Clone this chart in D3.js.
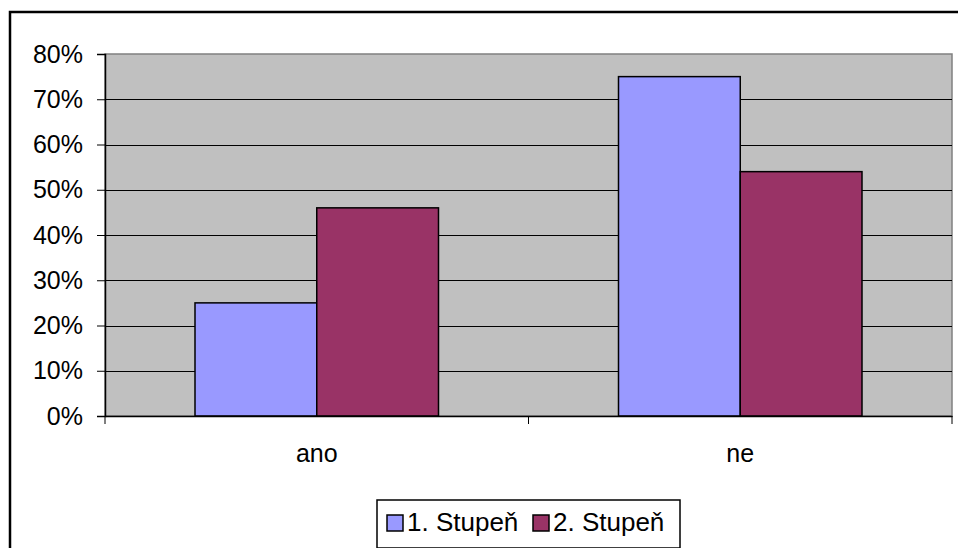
<!DOCTYPE html>
<html>
<meta charset="utf-8">
<style>
body { margin: 0; background: #fff; }
svg { display: block; }
text { font-family: "Liberation Sans", Arial, sans-serif; fill: #000; }
</style>
<body>
<svg id="chart" width="958" height="548"></svg>
<script src="https://d3js.org/d3.v7.min.js"></script>
<script>
var categories = ["ano", "ne"];
var series = ["1. Stupeň", "2. Stupeň"];
var stupen1 = [25, 75];
var stupen2 = [46, 54];
var yTicks = [0, 10, 20, 30, 40, 50, 60, 70, 80];
var colors = ["#9999FF", "#993366"];

var plot = {left: 105, right: 952, top: 54, bottom: 416};
var svg = d3.select("#chart");

// outer chart border (runs off the window on right and bottom)
svg.append("rect")
	.attr("x", 10).attr("y", 12)
	.attr("width", 960).attr("height", 560)
	.attr("fill", "#fff")
	.attr("stroke", "#000")
	.attr("stroke-width", 2.5);

var x = d3.scaleBand()
	.domain(categories)
	.range([plot.left, plot.right]);

// each category is ~424 px wide, the two bars take 244 of it
var xInner = d3.scaleBand()
	.domain(series)
	.range([90, x.bandwidth() - 90]);

var y = d3.scaleLinear()
	.domain([0, 80])
	.range([plot.bottom, plot.top]);

// plot background
svg.append("rect")
	.attr("x", plot.left).attr("y", plot.top)
	.attr("width", plot.right - plot.left).attr("height", plot.bottom - plot.top)
	.attr("fill", "#C0C0C0")
	.attr("stroke", "#808080")
	.attr("stroke-width", 1.5);

// gridlines
svg.append("g")
	.selectAll("line")
	.data(yTicks.slice(1, -1))
	.enter().append("line")
	.attr("x1", plot.left).attr("x2", plot.right)
	.attr("y1", function(d) { return Math.round(y(d)) + 0.5; })
	.attr("y2", function(d) { return Math.round(y(d)) + 0.5; })
	.attr("stroke", "#000")
	.attr("stroke-width", 1);

var data = categories.map(function(c, i) {
	return {cat: c, values: [stupen1[i], stupen2[i]]};
});

var grp = svg.append("g")
	.selectAll("g")
	.data(data)
	.enter().append("g")
	.attr("transform", function(d) { return "translate(" + x(d.cat) + ",0)"; });

grp.selectAll("rect")
	.data(function(d) { return d.values.map(function(v, i) { return {s: series[i], v: v, i: i}; }); })
	.enter().append("rect")
	.attr("x", function(d) { return xInner(d.s); })
	.attr("y", function(d) { return y(d.v); })
	.attr("width", xInner.bandwidth())
	.attr("height", function(d) { return plot.bottom - y(d.v); })
	.attr("fill", function(d) { return colors[d.i]; })
	.attr("stroke", "#000")
	.attr("stroke-width", 1.5);

// y axis
var yAxis = svg.append("g")
	.attr("transform", "translate(" + plot.left + ",0)")
	.call(d3.axisLeft(y).tickValues(yTicks).tickSize(8).tickPadding(14)
		.tickFormat(function(d) { return d + "%"; }));
yAxis.select(".domain").attr("stroke", "#000").attr("stroke-width", 1.5);
yAxis.selectAll(".tick line").attr("stroke", "#000");
yAxis.selectAll("text").style("font-size", "25px").attr("fill", "#000");

// x axis
var xAxis = svg.append("g")
	.attr("transform", "translate(0," + plot.bottom + ")")
	.call(d3.axisBottom(x).tickSize(0).tickPadding(28));
xAxis.select(".domain").attr("stroke", "#000").attr("stroke-width", 1.5);
xAxis.selectAll("text").style("font-size", "25px").attr("fill", "#000");
// category boundary ticks
var bounds = [plot.left].concat(categories.map(function(c) { return x(c) + x.bandwidth(); }));
xAxis.selectAll(".bound")
	.data(bounds)
	.enter().append("line")
	.attr("class", "bound")
	.attr("x1", function(d) { return d; }).attr("x2", function(d) { return d; })
	.attr("y1", 0).attr("y2", 8)
	.attr("stroke", "#000");

// legend
var legend = svg.append("g").attr("transform", "translate(377,500)");
legend.append("rect")
	.attr("width", 303).attr("height", 48)
	.attr("fill", "#fff")
	.attr("stroke", "#000")
	.attr("stroke-width", 1.5);
var legendX = [10, 156];
var item = legend.selectAll(".item")
	.data(series)
	.enter().append("g")
	.attr("class", "item")
	.attr("transform", function(d, i) { return "translate(" + legendX[i] + ",0)"; });
item.append("rect")
	.attr("x", 0).attr("y", 15)
	.attr("width", 16).attr("height", 16)
	.attr("fill", function(d, i) { return colors[i]; })
	.attr("stroke", "#000")
	.attr("stroke-width", 1.5);
item.append("text")
	.attr("x", 20).attr("y", 31)
	.style("font-size", "26px")
	.text(function(d) { return d; });
</script>
</body>
</html>
